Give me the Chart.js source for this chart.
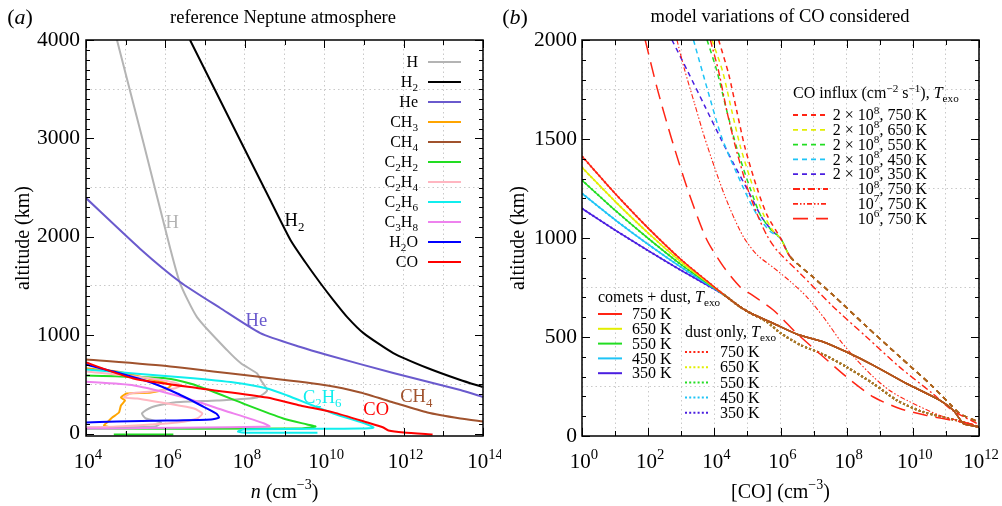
<!DOCTYPE html>
<html>
<head>
<meta charset="utf-8">
<script src="https://cdn.jsdelivr.net/npm/chart.js@4.4.1/dist/chart.umd.min.js"></script>
<style>
  html, body { margin: 0; padding: 0; background: #ffffff; }
  #wrap { position: relative; width: 1002px; height: 506px; overflow: hidden; }
  canvas { position: absolute; top: 0; }
  #cA { left: 0; }
  #cB { left: 501px; }
</style>
</head>
<body>
<div id="wrap">
  <canvas id="cA" width="501" height="506"></canvas>
  <canvas id="cB" width="501" height="506"></canvas>
</div>
<script>
// =====================================================================
// DATA — panel (a): reference Neptune atmosphere (log10 n [cm^-3] vs altitude [km])
// =====================================================================
const leftSpecies = ['H', 'H₂', 'He', 'CH₃', 'CH₄', 'C₂H₂', 'C₂H₄', 'C₂H₆', 'C₃H₈', 'H₂O', 'CO'];

const H_log10n    = [4.78, 5.45, 6.12, 6.37, 6.80, 7.56, 7.91, 8.31, 8.41, 8.56, 8.31, 7.30, 6.22, 5.64, 5.41, 5.51, 5.89, 5.74, 3.90];
const H_alt       = [4000, 2950, 1883, 1527, 1181, 845, 712, 611, 539, 438, 366, 336, 316, 265, 204, 153, 112, 71, 61];

const H2_log10n   = [6.62, 7.88, 8.64, 9.15, 9.52, 9.90, 10.23, 10.58, 10.99, 11.74, 12.60, 13.43, 13.99];
const H2_alt      = [4000, 2983, 2373, 1967, 1743, 1530, 1357, 1184, 1021, 818, 666, 544, 473];

const He_log10n   = [4.00, 5.36, 6.37, 7.38, 8.39, 9.40, 10.08, 11.74, 13.43, 14.00];
const He_alt      = [2393, 1879, 1541, 1276, 1021, 879, 798, 615, 442, 371];

const CH3_log10n  = [3.90, 4.78, 5.46, 5.97, 6.14, 6.04, 5.64, 5.03, 4.88, 4.98, 4.88, 4.83, 4.66, 4.53, 4.45, 4.63, 3.90];
const CH3_alt     = [668, 631, 570, 519, 489, 458, 417, 407, 366, 336, 285, 214, 163, 112, 81, 61, 55];

const CH4_log10n  = [4.00, 6.12, 8.39, 10.08, 10.91, 11.74, 12.60, 13.43, 14.00];
const CH4_alt     = [753, 682, 575, 489, 417, 316, 214, 153, 122];

const C2H2_log10n = [3.90, 6.04, 6.62, 7.13, 7.96, 8.97, 9.57, 9.78, 9.40, 3.90];
const C2H2_alt    = [590, 560, 509, 438, 305, 153, 92, 71, 51, 51];
const C2H2_low_log10n = [4.70, 6.20];
const C2H2_low_alt    = [-10, -10];

const C2H4_log10n = [3.90, 5.64, 6.22, 6.40, 6.22, 5.64, 5.13, 4.96, 5.29, 6.04, 6.72, 6.93, 6.80, 6.30, 5.64, 4.78, 3.90];
const C2H4_alt    = [635, 560, 519, 489, 458, 427, 407, 366, 356, 305, 254, 204, 153, 112, 92, 71, 61];

const C2H6_log10n = [3.90, 5.21, 6.47, 7.73, 8.56, 9.07, 9.65, 10.23, 11.09, 11.24, 10.90, 7.96, 7.83, 8.14, 9.83];
const C2H6_alt    = [655, 611, 570, 519, 458, 387, 295, 204, 92, 61, 51, 41, 20, 8, 8];

const C3H8_log10n = [3.90, 5.21, 6.47, 7.48, 8.49, 8.62, 3.90];
const C3H8_alt    = [529, 489, 366, 234, 102, 71, 51];

const H2O_log10n  = [3.90, 4.78, 5.64, 6.30, 6.90, 7.28, 7.35, 7.15, 6.04, 4.78, 3.90];
const H2O_alt     = [712, 621, 519, 407, 285, 204, 163, 142, 132, 122, 112];

const CO_log10n   = [4.00, 5.19, 6.88, 8.56, 9.40, 10.23, 11.09, 11.49, 11.62, 12.00, 12.73];
const CO_alt      = [722, 560, 458, 366, 285, 215, 112, 61, 31, 10, -10];

// in-plot curve labels (text and anchor in data units)
const leftCurveLabels       = ['H', 'H₂', 'He', 'C₂H₆', 'CO', 'CH₄'];
const leftCurveLabel_log10n = [6.17, 9.25, 8.29, 9.95, 11.31, 12.32];
const leftCurveLabel_alt    = [2150, 2170, 1153, 372, 250, 381];

// tick labels
const leftXTickExponents = [4, 6, 8, 10, 12, 14];
const leftYTickLabels    = [0, 1000, 2000, 3000, 4000];

// =====================================================================
// DATA — panel (b): model variations of CO ([CO] log10 cm^-3 vs altitude km)
// =====================================================================
const exoTemps = ['750 K', '650 K', '550 K', '450 K', '350 K'];

// comets + dust (solid); heads differ by T_exo, then a common tail
const cometsDust_head_log10 = [0, 1, 2, 3, 4];
const cometsDust750_alt = [1413, 1225, 1050, 890, 752];
const cometsDust650_alt = [1356, 1185, 1025, 878, 750];
const cometsDust550_alt = [1292, 1140, 998, 865, 748];
const cometsDust450_alt = [1225, 1092, 968, 852, 745];
const cometsDust350_alt = [1149, 1040, 936, 836, 742];
const cometsDust_tail_log10 = [4.30, 4.78, 5.09, 5.79, 6.50, 7.30, 8.00, 8.81, 9.82, 10.82, 11.23, 11.53, 11.73, 12.00];
const cometsDust_tail_alt   = [712, 652, 621, 568, 514, 475, 424, 357, 264, 180, 129, 62, 54, 45];

// dust only (dotted): same heads, lower tail
const dustOnly_tail_log10 = [4.30, 4.78, 5.09, 5.59, 6.00, 6.60, 7.30, 8.00, 8.81, 9.52, 10.32, 11.33, 12.00];
const dustOnly_tail_alt   = [712, 652, 621, 576, 520, 460, 412, 348, 264, 180, 121, 79, 45];

// CO influx 2x10^8 cm^-2 s^-1 (dashed), per T_exo, then a common tail
const influx2e8_750_log10 = [4.13, 4.43, 4.68, 4.93, 5.29, 5.59, 6.00];
const influx2e8_750_alt   = [2000, 1830, 1640, 1454, 1252, 1117, 999];
const influx2e8_650_log10 = [3.93, 4.25, 4.53, 4.80, 5.18, 5.49, 5.80, 6.00];
const influx2e8_650_alt   = [2000, 1842, 1640, 1454, 1252, 1117, 1030, 999];
const influx2e8_550_log10 = [3.78, 4.08, 4.38, 4.68, 5.08, 5.39, 5.72, 6.00];
const influx2e8_550_alt   = [2000, 1842, 1640, 1454, 1252, 1117, 1040, 999];
const influx2e8_450_log10 = [3.37, 3.78, 4.23, 4.88, 5.29, 5.69, 6.00];
const influx2e8_450_alt   = [2000, 1757, 1505, 1252, 1117, 1033, 999];
const influx2e8_350_log10 = [2.72, 3.20, 3.70, 4.20, 4.60, 5.03, 5.45, 5.79, 6.00];
const influx2e8_350_alt   = [2000, 1840, 1670, 1500, 1370, 1235, 1100, 1030, 999];
const influx2e8_tail_log10 = [6.30, 7.00, 7.60, 8.60, 9.60, 10.60, 11.13, 11.43, 12.00];
const influx2e8_tail_alt   = [904, 800, 710, 553, 401, 250, 160, 112, 70];

// CO influx 10^8, 10^7, 10^6 at 750 K
const influx1e8_log10 = [3.88, 4.13, 4.38, 4.65, 5.00, 5.30, 5.60, 5.89, 6.60, 7.60, 8.60, 9.60, 10.60, 11.20, 12.00];
const influx1e8_alt   = [2000, 1842, 1640, 1454, 1252, 1117, 1010, 938, 820, 652, 500, 348, 214, 129, 58];
const influx1e7_log10 = [2.87, 3.10, 3.40, 3.70, 4.00, 4.30, 4.60, 4.90, 5.29, 5.79, 6.30, 6.80, 7.30, 7.80, 8.30, 8.81, 9.30, 9.82, 10.82, 12.00];
const influx1e7_alt   = [2000, 1850, 1680, 1510, 1360, 1220, 1100, 1000, 915, 850, 780, 702, 600, 483, 385, 298, 230, 180, 104, 49];
const influx1e6_log10 = [1.91, 2.27, 2.70, 3.18, 3.75, 4.28, 4.78, 5.08, 5.79, 6.50, 7.30, 8.00, 8.81, 9.62, 10.42, 11.33, 12.00];
const influx1e6_alt   = [2000, 1757, 1505, 1252, 999, 854, 753, 719, 635, 517, 399, 298, 197, 138, 104, 75, 54];

const influxLabels = ['2 × 10⁸, 750 K', '2 × 10⁸, 650 K', '2 × 10⁸, 550 K', '2 × 10⁸, 450 K', '2 × 10⁸, 350 K',
                      '10⁸, 750 K', '10⁷, 750 K', '10⁶, 750 K'];

// tick labels
const rightXTickExponents = [0, 2, 4, 6, 8, 10, 12];
const rightYTickLabels    = [0, 500, 1000, 1500, 2000];

// =====================================================================
// STYLE
// =====================================================================
const FAM = '"Liberation Serif","Times New Roman",Times,serif';
const GRID = '#c9c9c9';
const leftColors = ['#b4b4b4', '#000000', '#6a5acd', '#ffa500', '#a0522d', '#22dd22', '#ffb6c1', '#10eeee', '#ee82ee', '#0000ff', '#ff0000'];
const tempColors = ['#ff2414', '#e2ee00', '#22dd22', '#1ec4f6', '#4a1ee0'];
const MERGED_SOLID = '#b4561c', MERGED_DASHED = '#ad641c', MERGED_DOTTED = '#a8782a';
const DASH_2E8 = [5, 4], DASH_1E8 = [7, 3, 2, 3], DASH_1E7 = [5, 2, 1.5, 2, 1.5, 2], DASH_1E6 = [15, 8], DOT = [2, 2.2];

// =====================================================================
// helpers
// =====================================================================
const toPts = (logs, alts) => logs.map((l, i) => ({ x: Math.pow(10, l), y: alts[i] }));
const SUP = {'⁰':'0','¹':'1','²':'2','³':'3','⁴':'4','⁵':'5','⁶':'6','⁷':'7','⁸':'8','⁹':'9','⁻':'−'};
const SUB = {'₀':'0','₁':'1','₂':'2','₃':'3','₄':'4','₅':'5','₆':'6','₇':'7','₈':'8','₉':'9'};
function toSegs(str, base) {
  const segs = []; let cur = null;
  for (const ch of str) {
    let m = base || 'n', c = ch;
    if (SUP[ch]) { m = 'sup'; c = SUP[ch]; } else if (SUB[ch]) { m = 'sub'; c = SUB[ch]; }
    if (cur && cur.m === m) cur.t += c; else { cur = { t: c, m: m }; segs.push(cur); }
  }
  return segs;
}
function fontFor(m, size) {
  if (m === 'sup' || m === 'sub') return (size * 0.7).toFixed(1) + 'px ' + FAM;
  if (m === 'i') return 'italic ' + size + 'px ' + FAM;
  return size + 'px ' + FAM;
}
function richWidth(ctx, segs, size) {
  let w = 0;
  for (const s of segs) { ctx.font = fontFor(s.m, size); w += ctx.measureText(s.t).width; }
  return w;
}
function drawRich(ctx, segs, x, yc, size, align, color) {
  ctx.save();
  ctx.fillStyle = color || '#000';
  ctx.textBaseline = 'alphabetic';
  ctx.textAlign = 'left';
  const w = richWidth(ctx, segs, size);
  let cx = align === 'right' ? x - w : (align === 'center' ? x - w / 2 : x);
  const base = yc + 0.33 * size;
  for (const s of segs) {
    ctx.font = fontFor(s.m, size);
    const dy = s.m === 'sup' ? -0.42 * size : (s.m === 'sub' ? 0.24 * size : 0);
    ctx.fillText(s.t, cx, base + dy);
    cx += ctx.measureText(s.t).width;
  }
  ctx.restore();
}
function line(ctx, x1, y1, x2, y2) { ctx.beginPath(); ctx.moveTo(x1, y1); ctx.lineTo(x2, y2); ctx.stroke(); }

function drawFrameAndTicks(chart, t) {
  const { ctx, chartArea: a, scales: { x, y } } = chart;
  ctx.save();
  ctx.strokeStyle = '#000';
  ctx.lineWidth = 1;
  ctx.setLineDash([]);
  for (let v = t.yMinorStart; v <= t.yMax + 1e-6; v += t.yMinorStep) {
    const py = Math.round(y.getPixelForValue(v)) + 0.5;
    const len = (v % t.yLabelStep === 0) ? 8 : 4;
    line(ctx, a.left, py, a.left + len, py);
    line(ctx, a.right, py, a.right - len, py);
  }
  for (let e = t.xMinExp; e <= t.xMaxExp; e++) {
    const px = Math.round(x.getPixelForValue(Math.pow(10, e))) + 0.5;
    const len = (t.xLabelExps.indexOf(e) >= 0) ? 8 : 5;
    line(ctx, px, a.bottom, px, a.bottom - len);
    line(ctx, px, a.top, px, a.top + len);
  }
  ctx.lineWidth = 1.5;
  ctx.strokeRect(a.left, a.top, a.right - a.left, a.bottom - a.top);
  for (const e of t.xLabelExps) {
    const px = x.getPixelForValue(Math.pow(10, e));
    drawRich(ctx, [{ t: '10', m: 'n' }, { t: String(e), m: 'sup' }], px + 2, a.bottom + 25, 21, 'center');
  }
  ctx.restore();
}
function drawAxisTitles(chart, xTitleSegs, yTitleX) {
  const { ctx, chartArea: a } = chart;
  drawRich(ctx, xTitleSegs, (a.left + a.right) / 2, 491, 20, 'center');
  ctx.save();
  ctx.translate(yTitleX, (a.top + a.bottom) / 2);
  ctx.rotate(-Math.PI / 2);
  drawRich(ctx, toSegs('altitude (km)'), 0, 0, 20, 'center');
  ctx.restore();
}
function drawSample(ctx, x1, x2, y, color, dash, width) {
  ctx.save();
  ctx.strokeStyle = color; ctx.lineWidth = width; ctx.setLineDash(dash || []);
  line(ctx, x1, y, x2, y);
  ctx.restore();
}

// =====================================================================
// panel (a)
// =====================================================================
const leftData = [
  [H_log10n, H_alt], [H2_log10n, H2_alt], [He_log10n, He_alt], [CH3_log10n, CH3_alt], [CH4_log10n, CH4_alt],
  [C2H2_log10n, C2H2_alt], [C2H4_log10n, C2H4_alt], [C2H6_log10n, C2H6_alt], [C3H8_log10n, C3H8_alt],
  [H2O_log10n, H2O_alt], [CO_log10n, CO_alt]
];
const dsA = [];
leftData.forEach((d, i) => {
  dsA.push({ label: leftSpecies[i], data: toPts(d[0], d[1]), borderColor: leftColors[i], borderWidth: 2,
             showLine: true, pointRadius: 0, tension: 0.2, borderJoinStyle: 'round', clip: 0, order: 100 - i });
});
dsA.push({ label: 'C₂H₂ (low branch)', data: toPts(C2H2_low_log10n, C2H2_low_alt), borderColor: leftColors[5], borderWidth: 2,
           showLine: true, pointRadius: 0, clip: 0, order: 100 - 5 });

const pluginA = {
  id: 'panelA',
  afterDatasetsDraw(chart) {
    const { ctx, scales: { x, y } } = chart;
    drawFrameAndTicks(chart, { yMinorStart: 0, yMax: 4000, yMinorStep: 100, yLabelStep: 1000,
                               xMinExp: 4, xMaxExp: 14, xLabelExps: leftXTickExponents });
    leftCurveLabels.forEach((lab, i) => {
      const col = leftColors[leftSpecies.indexOf(lab)];
      drawRich(ctx, toSegs(lab), x.getPixelForValue(Math.pow(10, leftCurveLabel_log10n[i])),
               y.getPixelForValue(leftCurveLabel_alt[i]), 18.5, 'center', col);
    });
    leftSpecies.forEach((lab, i) => {
      const yy = 62 + 20 * i;
      drawRich(ctx, toSegs(lab), 418, yy, 16, 'right');
      drawSample(ctx, 428, 461, yy, leftColors[i], [], 2);
    });
    drawAxisTitles(chart, [{ t: 'n', m: 'i' }, { t: ' (cm', m: 'n' }, { t: '−3', m: 'sup' }, { t: ')', m: 'n' }], 22);
    drawRich(ctx, toSegs('reference Neptune atmosphere'), 283, 17, 18.5, 'center');
    drawRich(ctx, [{ t: '(', m: 'n' }, { t: 'a', m: 'i' }, { t: ')', m: 'n' }], 20, 17, 22, 'center');
  }
};

function baseOptions(o) {
  return {
    responsive: false, animation: false, devicePixelRatio: 1, events: [],
    layout: { padding: { left: 0, right: o.padRight, top: 40, bottom: 0 } },
    plugins: { legend: { display: false }, tooltip: { enabled: false }, title: { display: false } },
    scales: {
      x: {
        type: 'logarithmic', min: Math.pow(10, o.xMinExp), max: Math.pow(10, o.xMaxExp),
        afterBuildTicks: s => { const t = []; for (let e = o.xMinExp; e <= o.xMaxExp; e++) t.push({ value: Math.pow(10, e) }); s.ticks = t; },
        afterFit: s => { s.height = 70; },
        ticks: { display: false },
        grid: { color: GRID, lineWidth: 1, drawTicks: false, tickLength: 0 },
        border: { display: false, dash: [1.5, 3] }
      },
      y: {
        type: 'linear', min: o.yMin, max: o.yMax,
        afterBuildTicks: s => { const t = []; for (let v = 0; v <= o.yMax; v += o.yGridStep) t.push({ value: v }); s.ticks = t; },
        afterFit: s => { s.width = o.yWidth; },
        ticks: { color: '#000', padding: o.yPad, font: { family: FAM, size: 21.5 },
                 callback: v => (o.yLabels.indexOf(v) >= 0 ? String(v) : '') },
        grid: { color: c => (c.tick && o.yLabels.indexOf(c.tick.value) < 0) ? GRID : 'rgba(0,0,0,0)',
                lineWidth: 1, drawTicks: false, tickLength: 0 },
        border: { display: false, dash: [1.5, 3] }
      }
    }
  };
}

new Chart(document.getElementById('cA'), {
  type: 'scatter',
  data: { datasets: dsA },
  options: baseOptions({ padRight: 18, xMinExp: 4, xMaxExp: 14, yMin: -25, yMax: 4000, yGridStep: 500,
                         yWidth: 86, yPad: 6, yLabels: leftYTickLabels }),
  plugins: [pluginA]
});

// =====================================================================
// panel (b)
// =====================================================================
const cometsHeads = [cometsDust750_alt, cometsDust650_alt, cometsDust550_alt, cometsDust450_alt, cometsDust350_alt];
const influxHeads = [[influx2e8_750_log10, influx2e8_750_alt], [influx2e8_650_log10, influx2e8_650_alt],
                     [influx2e8_550_log10, influx2e8_550_alt], [influx2e8_450_log10, influx2e8_450_alt],
                     [influx2e8_350_log10, influx2e8_350_alt]];
const dsB = [];
let ord = 1000;
function addB(label, logs, alts, color, dash, width, mergeFromLog, mergedColor) {
  const ds = { label, data: toPts(logs, alts), borderColor: color, borderDash: dash, borderWidth: width,
               showLine: true, pointRadius: 0, tension: 0.25, borderJoinStyle: 'round', clip: 0, order: ord-- };
  if (mergedColor) {
    const lim = Math.pow(10, mergeFromLog) * 0.999;
    ds.segment = { borderColor: c => (c.p0.parsed.x >= lim ? mergedColor : undefined) };
  }
  dsB.push(ds);
}
// dust only (dotted) — beneath
for (let i = exoTemps.length - 1; i >= 0; i--) {
  addB('dust only ' + exoTemps[i], cometsDust_head_log10.concat(dustOnly_tail_log10), cometsHeads[i].concat(dustOnly_tail_alt),
       tempColors[i], DOT, 2, dustOnly_tail_log10[0], MERGED_DOTTED);
}
// 2e8 dashed
for (let i = exoTemps.length - 1; i >= 0; i--) {
  addB(influxLabels[i], influxHeads[i][0].concat(influx2e8_tail_log10), influxHeads[i][1].concat(influx2e8_tail_alt),
       tempColors[i], DASH_2E8, 1.5, influx2e8_tail_log10[0], MERGED_DASHED);
}
addB(influxLabels[5], influx1e8_log10, influx1e8_alt, tempColors[0], DASH_1E8, 1.4);
addB(influxLabels[6], influx1e7_log10, influx1e7_alt, tempColors[0], DASH_1E7, 1.1);
addB(influxLabels[7], influx1e6_log10, influx1e6_alt, tempColors[0], DASH_1E6, 1.5);
// comets + dust (solid) — on top
for (let i = exoTemps.length - 1; i >= 0; i--) {
  addB('comets + dust ' + exoTemps[i], cometsDust_head_log10.concat(cometsDust_tail_log10), cometsHeads[i].concat(cometsDust_tail_alt),
       tempColors[i], [], 1.5, cometsDust_tail_log10[0], MERGED_SOLID);
}

const TEXO = [{ t: 'T', m: 'i' }, { t: 'exo', m: 'sub' }];
const pluginB = {
  id: 'panelB',
  afterDatasetsDraw(chart) {
    const { ctx } = chart;
    drawFrameAndTicks(chart, { yMinorStart: 0, yMax: 2000, yMinorStep: 100, yLabelStep: 500,
                               xMinExp: 0, xMaxExp: 12, xLabelExps: rightXTickExponents });
    drawRich(ctx, [{ t: 'CO influx (cm', m: 'n' }, { t: '−2', m: 'sup' }, { t: ' s', m: 'n' }, { t: '−1', m: 'sup' }, { t: '), ', m: 'n' }].concat(TEXO),
             292, 93, 16, 'left');
    const infStyles = [[tempColors[0], DASH_2E8], [tempColors[1], DASH_2E8], [tempColors[2], DASH_2E8], [tempColors[3], DASH_2E8],
                       [tempColors[4], DASH_2E8], [tempColors[0], DASH_1E8], [tempColors[0], DASH_1E7], [tempColors[0], DASH_1E6]];
    influxLabels.forEach((lab, i) => {
      const yy = 115 + 14.8 * i;
      drawSample(ctx, 292, 327, yy, infStyles[i][0], infStyles[i][1], 1.8);
      drawRich(ctx, toSegs(lab), 426, yy, 16, 'right');
    });
    drawRich(ctx, [{ t: 'comets + dust, ', m: 'n' }].concat(TEXO), 97, 297, 16, 'left');
    exoTemps.forEach((lab, i) => {
      const yy = 314 + 14.8 * i;
      drawSample(ctx, 97, 121, yy, tempColors[i], [], 2);
      drawRich(ctx, toSegs(lab), 131, yy, 16, 'left');
    });
    drawRich(ctx, [{ t: 'dust only, ', m: 'n' }].concat(TEXO), 184, 332, 16, 'left');
    exoTemps.forEach((lab, i) => {
      const yy = 352 + 15.2 * i;
      drawSample(ctx, 184, 209, yy, tempColors[i], DOT, 2);
      drawRich(ctx, toSegs(lab), 219, yy, 16, 'left');
    });
    drawAxisTitles(chart, [{ t: '[CO] (cm', m: 'n' }, { t: '−3', m: 'sup' }, { t: ')', m: 'n' }], 16);
    drawRich(ctx, toSegs('model variations of CO considered'), 279, 16, 18.5, 'center');
    drawRich(ctx, [{ t: '(', m: 'n' }, { t: 'b', m: 'i' }, { t: ')', m: 'n' }], 14, 17, 22, 'center');
  }
};

new Chart(document.getElementById('cB'), {
  type: 'scatter',
  data: { datasets: dsB },
  options: baseOptions({ padRight: 23, xMinExp: 0, xMaxExp: 12, yMin: 0, yMax: 2000, yGridStep: 250,
                         yWidth: 81, yPad: 5, yLabels: rightYTickLabels }),
  plugins: [pluginB]
});
</script>
</body>
</html>
